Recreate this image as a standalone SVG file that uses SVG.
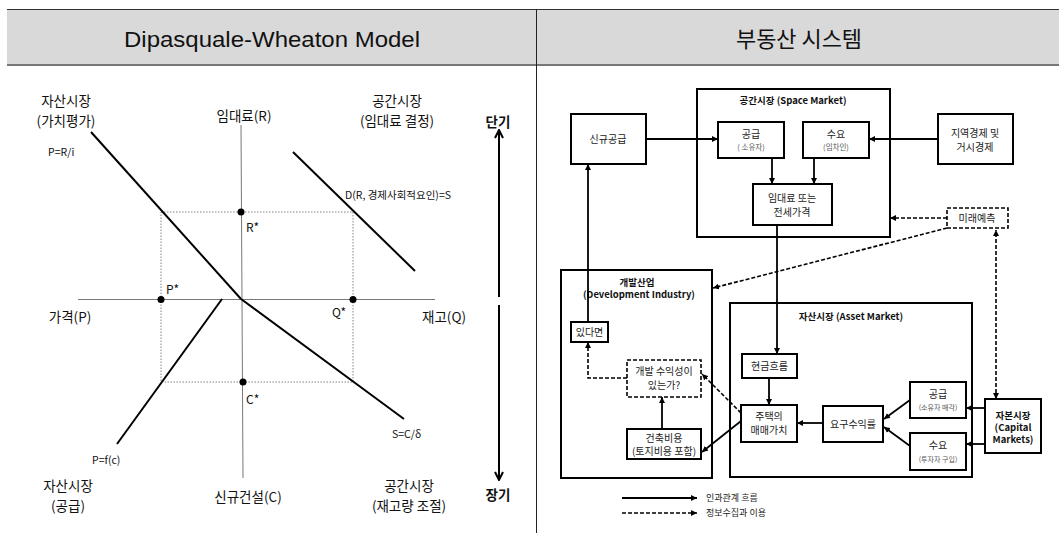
<svg xmlns="http://www.w3.org/2000/svg" width="1059" height="533" viewBox="0 0 1059 533">
<defs>
<marker id="ah" viewBox="0 0 10 10" refX="10" refY="5" markerWidth="6" markerHeight="6" markerUnits="userSpaceOnUse" orient="auto-start-reverse">
<path d="M0,0 L10,5 L0,10 z" fill="#000"/>
</marker>
<marker id="ahL" viewBox="0 0 10 10" refX="9" refY="5" markerWidth="10" markerHeight="10" markerUnits="userSpaceOnUse" orient="auto-start-reverse">
<path d="M1,1 L9,5 L1,9" fill="none" stroke="#000" stroke-width="2"/>
</marker>
</defs>
<style>
text{font-family:"Noto Sans CJK KR","Liberation Sans",sans-serif;fill:#111;}
.hd{font-size:22px;text-anchor:middle;fill:#111;}
.lb{font-size:13.5px;text-anchor:middle;}
.sm{font-size:10.5px;}
.bx{fill:#fff;stroke:#000;stroke-width:2;}
.dbx{fill:#fff;stroke:#000;stroke-width:1.6;stroke-dasharray:4 2;}
.obx{fill:none;stroke:#000;stroke-width:2;}
.t{font-size:10px;text-anchor:middle;fill:#222;}
.s{font-size:7.5px;text-anchor:middle;fill:#555;}
.b{font-size:9.5px;text-anchor:middle;font-weight:bold;fill:#111;}
.c{stroke:#000;stroke-width:1.8;fill:none;marker-end:url(#ah);}
.d{stroke:#000;stroke-width:1.6;fill:none;stroke-dasharray:4 2;marker-end:url(#ah);}
.ax{stroke:#777;stroke-width:1;fill:none;}
.cv{stroke:#000;stroke-width:2;fill:none;}
.dot{stroke:#666;stroke-width:0.8;stroke-dasharray:1.5 1.5;fill:none;}
</style>
<rect width="1059" height="533" fill="#fff"/>
<!-- header -->
<rect x="7" y="9" width="1052" height="57" fill="#d9d9d9"/>
<line x1="7" y1="9.5" x2="1059" y2="9.5" stroke="#333" stroke-width="1"/>
<line x1="7" y1="65" x2="1059" y2="65" stroke="#777" stroke-width="2"/>
<line x1="536.5" y1="9" x2="536.5" y2="533" stroke="#222" stroke-width="1"/>
<text class="hd" x="272" y="47" textLength="296" lengthAdjust="spacingAndGlyphs" style="font-family:'Liberation Sans',sans-serif">Dipasquale-Wheaton Model</text>
<text class="hd" x="799" y="47" textLength="126" lengthAdjust="spacingAndGlyphs">부동산 시스템</text>

<!-- LEFT: DiPasquale-Wheaton -->
<g id="dw-axes">
<line class="ax" x1="78" y1="299.5" x2="435" y2="299.5"/>
<line class="ax" x1="241" y1="125" x2="243" y2="478"/>
<rect class="dot" x="161" y="212" width="192" height="170"/>
</g>
<g id="dw-curves">
<line class="cv" x1="91" y1="132" x2="241" y2="299"/>
<line class="cv" x1="293" y1="152" x2="415" y2="271"/>
<line class="cv" x1="222" y1="299" x2="117" y2="444"/>
<line class="cv" x1="241" y1="299" x2="404" y2="419"/>
</g>
<g id="dw-points" fill="#000">
<circle cx="241" cy="212" r="3.5"/>
<circle cx="161" cy="299.5" r="3.5"/>
<circle cx="353" cy="299.5" r="3.5"/>
<circle cx="243" cy="382" r="3.5"/>
</g>
<g id="dw-labels">
<text class="lb" x="66" y="106">자산시장</text>
<text class="lb" x="66" y="126">(가치평가)</text>
<text class="lb" x="244" y="121">임대료(R)</text>
<text class="lb" x="397" y="106">공간시장</text>
<text class="lb" x="397" y="126">(임대료 결정)</text>
<text class="sm" x="48" y="156">P=R/i</text>
<text class="sm" x="345" y="199">D(R, 경제사회적요인)=S</text>
<text class="sm" x="246" y="232" style="font-size:12px">R*</text>
<text class="sm" x="166" y="294" style="font-size:12px">P*</text>
<text class="sm" x="332" y="317" style="font-size:12px">Q*</text>
<text class="sm" x="246" y="404" style="font-size:12px">C*</text>
<text class="lb" x="70" y="322">가격(P)</text>
<text class="lb" x="444" y="322">재고(Q)</text>
<text class="sm" x="392" y="438">S=C/δ</text>
<text class="sm" x="92" y="464">P=f(c)</text>
<text class="lb" x="68" y="491">자산시장</text>
<text class="lb" x="68" y="511">(공급)</text>
<text class="lb" x="248" y="502">신규건설(C)</text>
<text class="lb" x="409" y="491">공간시장</text>
<text class="lb" x="409" y="511">(재고량 조절)</text>
<text class="lb" x="498" y="127" font-weight="bold">단기</text>
<text class="lb" x="498" y="500" font-weight="bold">장기</text>
</g>
<g id="dw-horizon" stroke="#000" stroke-width="2" fill="none">
<line x1="499" y1="297" x2="499" y2="130" marker-end="url(#ahL)"/>
<line x1="499" y1="305" x2="499" y2="480" marker-end="url(#ahL)"/>
</g>

<!-- RIGHT: real estate system -->
<g id="space-market"><rect class="obx" x="697" y="89" width="193" height="148"/><text class="b" x="793" y="104">공간시장 (Space Market)</text></g>
<g id="dev-industry"><rect class="obx" x="561" y="270" width="151" height="208"/><text class="b" x="637" y="286">개발산업</text><text class="b" x="639" y="298">(Development Industry)</text></g>
<g id="asset-market"><rect class="obx" x="730" y="303" width="242" height="174"/><text class="b" x="851" y="320">자산시장 (Asset  Market)</text></g>

<g id="new-supply"><rect class="bx" x="571" y="114" width="75" height="50"/><text class="t" x="608" y="143">신규공급</text></g>
<g id="sm-supply"><rect class="bx" x="718" y="122" width="66" height="36"/><text class="t" x="751" y="138">공급</text><text class="s" x="751" y="150">( 소유자)</text></g>
<g id="sm-demand"><rect class="bx" x="803" y="122" width="66" height="36"/><text class="t" x="836" y="138">수요</text><text class="s" x="836" y="150">(임차인)</text></g>
<g id="rent"><rect class="bx" x="753" y="184" width="79" height="41"/><text class="t" x="792" y="202">임대료 또는</text><text class="t" x="792" y="216">전세가격</text></g>
<g id="macro"><rect class="bx" x="938" y="114" width="75" height="50"/><text class="t" x="975" y="137">지역경제 및</text><text class="t" x="975" y="151">거시경제</text></g>
<g id="forecast"><rect class="dbx" x="947" y="208" width="61" height="20"/><text class="t" x="977" y="222">미래예측</text></g>
<g id="if-so"><rect class="bx" x="571" y="322" width="37" height="20"/><text class="t" x="589.5" y="336">있다면</text></g>
<g id="profitable"><rect class="dbx" x="627" y="360" width="74" height="37"/><text class="t" x="664" y="375">개발 수익성이</text><text class="t" x="664" y="389">있는가?</text></g>
<g id="cost"><rect class="bx" x="627" y="429" width="74" height="30"/><text class="t" x="664" y="442">건축비용</text><text class="t" x="664" y="455">(토지비용 포함)</text></g>
<g id="cashflow"><rect class="bx" x="742" y="354" width="55" height="24"/><text class="t" x="769.5" y="370">현금흐름</text></g>
<g id="house-value"><rect class="bx" x="741" y="405" width="56" height="37"/><text class="t" x="769" y="420">주택의</text><text class="t" x="769" y="434">매매가치</text></g>
<g id="req-return"><rect class="bx" x="823" y="406" width="60" height="36"/><text class="t" x="853" y="428">요구수익률</text></g>
<g id="am-supply"><rect class="bx" x="910" y="382" width="56" height="36"/><text class="t" x="938" y="398">공급</text><text class="s" x="938" y="410" style="font-size:7px">(소유자 매각)</text></g>
<g id="am-demand"><rect class="bx" x="910" y="433" width="56" height="37"/><text class="t" x="938" y="449">수요</text><text class="s" x="938" y="462" style="font-size:7px">(투자자 구입)</text></g>
<g id="capital"><rect class="bx" x="985" y="399" width="56" height="54"/><text class="b" x="1013" y="419">자본시장</text><text class="b" x="1013" y="431">(Capital</text><text class="b" x="1013" y="443">Markets)</text></g>

<g id="connectors">
<line class="c" x1="646" y1="139" x2="718" y2="139"/>
<line class="c" x1="938" y1="139" x2="869" y2="139"/>
<line class="c" x1="772" y1="158" x2="772" y2="184"/>
<line class="c" x1="814" y1="158" x2="814" y2="184"/>
<line class="d" x1="947" y1="218" x2="890" y2="218"/>
<line class="d" x1="947" y1="228" x2="713" y2="288"/>
<line class="d" x1="996" y1="399" x2="996" y2="230" style="marker-start:url(#ah)"/>
<line class="c" x1="777" y1="225" x2="777" y2="354"/>
<line class="c" x1="769" y1="378" x2="769" y2="405"/>
<line class="c" x1="823" y1="423" x2="797" y2="423"/>
<line class="c" x1="910" y1="400" x2="884" y2="419"/>
<line class="c" x1="910" y1="446" x2="884" y2="427"/>
<line class="c" x1="985" y1="408" x2="966" y2="408"/>
<line class="c" x1="985" y1="444" x2="966" y2="444"/>
<line class="d" x1="741" y1="413" x2="702" y2="374"/>
<line class="c" x1="741" y1="421" x2="702" y2="452"/>
<line class="c" x1="662" y1="429" x2="662" y2="397"/>
<path class="d" d="M627,378 H588 V342"/>
<line class="c" x1="588" y1="322" x2="588" y2="164"/>
</g>
<g id="legend">
<line class="c" x1="622" y1="498" x2="697" y2="498"/>
<line class="d" x1="622" y1="513" x2="697" y2="513"/>
<text class="t" x="706" y="501" style="text-anchor:start;font-size:9px">인과관계 흐름</text>
<text class="t" x="706" y="516" style="text-anchor:start;font-size:9px">정보수집과 이용</text>
</g>
</svg>
